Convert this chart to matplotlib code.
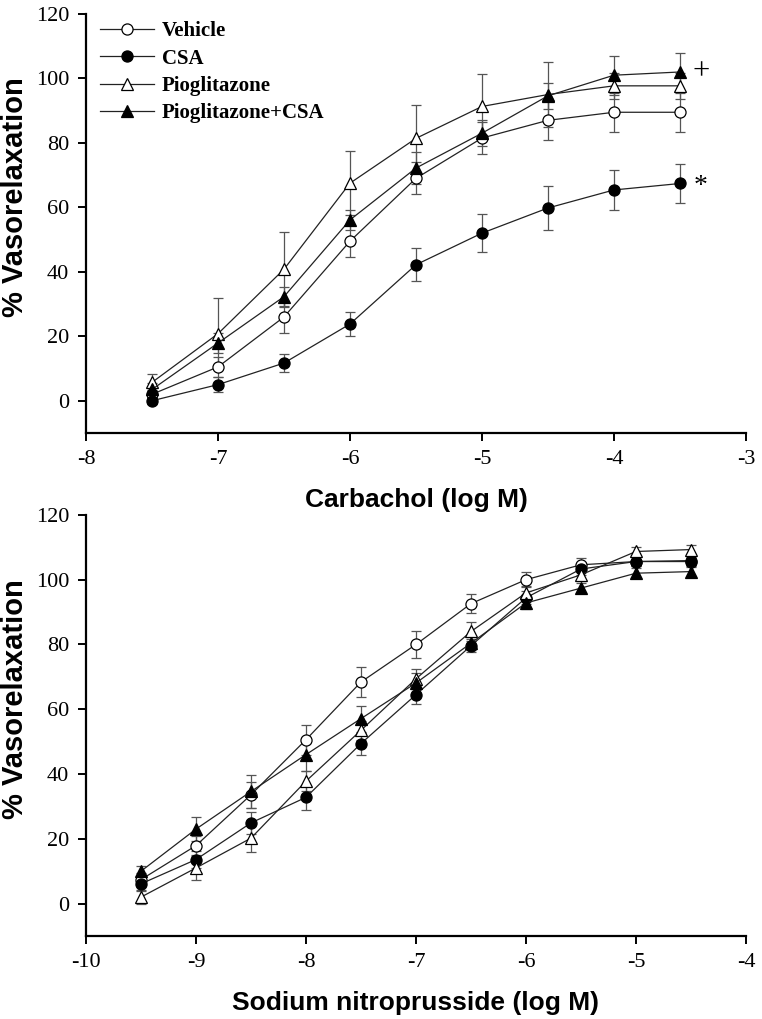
import matplotlib
matplotlib.use('Agg')
import matplotlib.pyplot as plt
from matplotlib.lines import Line2D

plt.rcParams['axes.unicode_minus'] = False

# carbachol (top panel)
carb_x = [-7.5, -7, -6.5, -6, -5.5, -5, -4.5, -4, -3.5]
carb_vehicle = [2, 10.5, 26, 49.5, 69, 81.5, 87, 89.5, 89.5]
carb_vehicle_err = [2, 3, 5, 5, 5, 5, 6, 6, 6]
carb_csa = [0, 5, 11.7, 23.8, 42.2, 52, 59.8, 65.4, 67.4]
carb_csa_err = [1, 2.3, 2.8, 3.6, 5.2, 6, 6.7, 6.3, 6]
carb_pio = [5.7, 20.8, 40.8, 67.5, 81.4, 91.3, 95, 97.7, 97.7]
carb_pio_err = [2.5, 11, 11.7, 10, 10.5, 10, 10, 4, 4]
carb_pc = [3.5, 17.9, 32.3, 56.1, 72.2, 83, 94.6, 101, 102]
carb_pc_err = [2, 3, 3, 3, 5, 4, 4, 6, 6]

# sodium nitroprusside (bottom panel)
snp_x = [-9.5, -9, -8.5, -8, -7.5, -7, -6.5, -6, -5.5, -5, -4.5]
snp_vehicle = [7.4, 17.9, 33.6, 50.6, 68.4, 80, 92.6, 100, 104.6, 105.6, 105.6]
snp_vehicle_err = [2, 3, 4, 4.6, 4.6, 4.3, 3, 2.4, 2, 1.5, 1.5]
snp_csa = [6.1, 13.6, 24.9, 32.8, 49.4, 64.5, 79.6, 94.4, 103.3, 105.6, 105.9]
snp_csa_err = [2, 2.5, 3.5, 3.8, 3.4, 3, 2, 2, 2, 1.5, 1.5]
snp_pio = [2, 11, 20.2, 37.8, 53.5, 69.4, 84, 95.9, 101.5, 108.7, 109.3]
snp_pio_err = [2, 3.6, 4.4, 3, 3, 3, 3, 2, 2, 1.5, 1.5]
snp_pc = [10, 23, 34.6, 46, 57.1, 68.1, 80.4, 92.8, 97.4, 102, 102.5]
snp_pc_err = [1.5, 3.6, 5, 5, 4, 3, 2, 2, 1.5, 1.5, 1.5]

labels = ['Vehicle', 'CSA', 'Pioglitazone', 'Pioglitazone+CSA']
yticks = [0, 20, 40, 60, 80, 100, 120]

SERIF = 'Liberation Serif'
SANS = 'Liberation Sans'

STYLES = [
    dict(marker='o', mfc='white', ms=8),
    dict(marker='o', mfc='black', ms=8),
    dict(marker='^', mfc='white', ms=9),
    dict(marker='^', mfc='black', ms=9),
]


def panel(ax, x, ys, errs, xlim, xlabel):
    for y, e, st in zip(ys, errs, STYLES):
        ax.errorbar(x, y, yerr=e, color='#222222', ecolor='#555555',
                    elinewidth=0.9, capsize=3.5, capthick=0.9, lw=0.9,
                    mec='black', mew=0.9, **st)

    ax.set_xlim(*xlim)
    ax.set_ylim(-10, 120)
    ax.set_yticks(yticks)
    ax.set_xticks(range(int(xlim[0]), int(xlim[1]) + 1))
    ax.spines['top'].set_visible(False)
    ax.spines['right'].set_visible(False)
    ax.spines['left'].set_bounds(-10, 120)
    for s in ('left', 'bottom'):
        ax.spines[s].set_linewidth(1.6)
    ax.tick_params(direction='out', length=6, width=1.4, labelsize=16, pad=6)
    for t in ax.get_xticklabels() + ax.get_yticklabels():
        t.set_fontfamily(SERIF)
    ax.set_xlabel(xlabel, fontsize=19, fontweight='bold', family=SANS, labelpad=14)
    ax.set_ylabel('% Vasorelaxation', fontsize=21, fontweight='bold', family=SANS)
    # label sitzt im original etwas oberhalb der mitte
    ax.yaxis.set_label_coords(-0.086, 0.563)


fig = plt.figure(figsize=(7.62, 10.19), dpi=100)
ax1 = fig.add_axes([0.1129, 0.5751, 0.866, 0.4112])
ax2 = fig.add_axes([0.1129, 0.0815, 0.866, 0.4132])

panel(ax1, carb_x, [carb_vehicle, carb_csa, carb_pio, carb_pc],
      [carb_vehicle_err, carb_csa_err, carb_pio_err, carb_pc_err],
      (-8, -3), 'Carbachol (log M)')
panel(ax2, snp_x, [snp_vehicle, snp_csa, snp_pio, snp_pc],
      [snp_vehicle_err, snp_csa_err, snp_pio_err, snp_pc_err],
      (-10, -4), 'Sodium nitroprusside (log M)')

# legend nur oben, ohne fehlerbalken
handles = [Line2D([], [], color='#222222', lw=0.9, mec='black', mew=0.9, **st)
           for st in STYLES]
ax1.legend(handles, labels, loc='upper left', bbox_to_anchor=(-0.008, 1.027),
           frameon=False, prop=dict(family=SERIF, weight='bold', size=15),
           handlelength=2.6, handletextpad=0.4, labelspacing=0.35)

# signifikanz-zeichen
ax1.annotate('+', (carb_x[-1], carb_pc[-1]), xytext=(15, 0),
             textcoords='offset points', ha='center', va='center',
             family=SERIF, fontsize=22)
ax1.annotate('*', (carb_x[-1], carb_csa[-1]), xytext=(15, -2),
             textcoords='offset points', ha='center', va='center',
             family=SERIF, fontsize=20)

fig.savefig('out.png', dpi=100)
